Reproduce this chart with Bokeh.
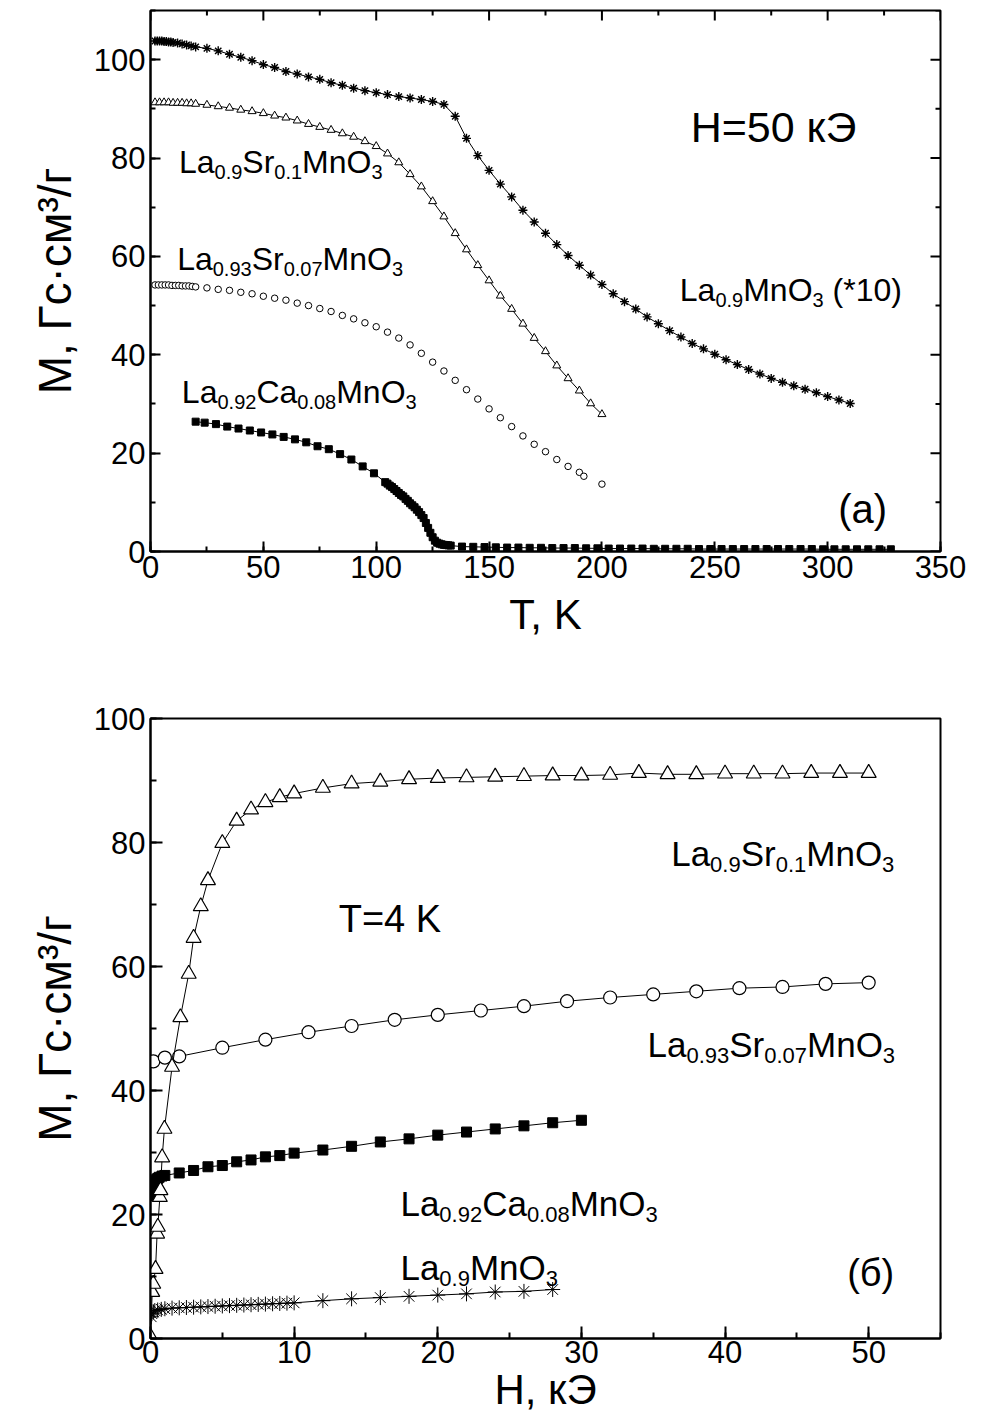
import math
from bokeh.plotting import figure
from bokeh.layouts import column
from bokeh.models import SingleIntervalTicker, Range1d
from bokeh.core.properties import value
from bokeh.embed import file_html
from bokeh.resources import INLINE

FONT = "Liberation Sans"

# ---------------- panel (a): M(T) at H = 50 kOe ----------------
T_mn = [2, 3, 4, 5, 6, 7, 8, 9, 10, 12, 14, 16, 18, 20,
        25, 30, 35, 40, 45, 50, 55, 60, 65, 70, 75, 80, 85, 90, 95, 100,
        105, 110, 115, 120, 125, 130, 135, 140, 145, 150, 155, 160, 165, 170,
        175, 180, 185, 190, 195, 200, 205, 210, 215, 220, 225, 230, 235, 240,
        245, 250, 255, 260, 265, 270, 275, 280, 285, 290, 295, 300, 305, 310]
M_mn = [103.8, 103.8, 103.8, 103.8, 103.7, 103.7, 103.6, 103.6, 103.5, 103.4, 103.2, 103.0, 102.8, 102.6,
        102.3, 101.8, 101.1, 100.5, 99.8, 99.0, 98.4, 97.6, 97.1, 96.5, 96.0, 95.3, 94.8, 94.2, 93.7, 93.3,
        92.9, 92.5, 92.2, 91.9, 91.5, 90.9, 88.5, 84.0, 80.5, 77.5, 74.7, 72.1, 69.4, 67.0,
        64.7, 62.4, 60.2, 58.2, 56.2, 54.3, 52.4, 50.8, 49.3, 47.7, 46.3, 44.9, 43.6, 42.3,
        41.2, 40.1, 39.0, 38.0, 37.0, 36.1, 35.2, 34.4, 33.7, 33.0, 32.3, 31.5, 30.8, 30.1]

T_sr10 = [2, 4, 6, 8, 10, 12, 14, 16, 18, 20,
          25, 30, 35, 40, 45, 50, 55, 60, 65, 70, 75, 80, 85, 90, 95, 100,
          105, 110, 115, 120, 125, 130, 135, 140, 145, 150, 155, 160, 165, 170,
          175, 180, 185, 190, 195, 200]
M_sr10 = [91.3, 91.3, 91.3, 91.3, 91.2, 91.2, 91.2, 91.1, 91.1, 91.0,
          90.8, 90.5, 90.2, 89.8, 89.5, 89.1, 88.6, 88.2, 87.6, 86.9, 86.3, 85.7, 85.0, 84.3, 83.4, 82.4,
          80.9, 79.1, 76.7, 74.2, 71.2, 68.1, 64.7, 61.4, 58.2, 55.1, 52.0, 49.3, 46.3, 43.4,
          40.7, 37.8, 35.2, 32.7, 30.1, 27.9]

T_sr07 = [2, 3.5, 5, 6.5, 8, 9.5, 11, 12.5, 14, 15.5, 17, 18.5, 20,
          25, 30, 35, 40, 45, 50, 55, 60, 65, 70, 75, 80, 85, 90, 95, 100,
          105, 110, 115, 120, 125, 130, 135, 140, 145, 150, 155, 160, 165, 170,
          175, 180, 185, 190, 192, 200]
M_sr07 = [54.2, 54.2, 54.2, 54.2, 54.2, 54.1, 54.1, 54.1, 54.0, 54.0, 54.0, 53.9, 53.8,
          53.6, 53.3, 53.1, 52.7, 52.4, 51.9, 51.5, 51.1, 50.5, 50.0, 49.4, 48.8, 48.0, 47.3, 46.5, 45.7,
          44.6, 43.4, 42.0, 40.3, 38.5, 36.7, 34.8, 32.9, 31.0, 29.0, 27.2, 25.4, 23.5, 21.8,
          20.3, 18.7, 17.3, 16.1, 15.3, 13.7]

T_ca = [20, 24, 29, 34, 39, 44, 49, 54, 59, 64, 69, 74, 79, 84, 89, 94, 99,
        104, 105, 106, 107, 108, 109, 110, 111, 112, 113, 114, 115, 116, 117, 118, 119,
        120, 121, 122, 123, 124, 125, 126, 127, 128, 129, 130, 131, 132, 133,
        138, 143, 148, 153, 158, 163, 168, 173, 178, 183, 188, 193, 198, 203, 208, 213,
        218, 223, 228, 233, 238, 243, 248, 253, 258, 263, 268, 273, 278, 283, 288, 293,
        298, 303, 308, 313, 318, 323, 328]
M_ca = [26.4, 26.2, 25.9, 25.4, 25.0, 24.6, 24.2, 23.8, 23.3, 22.8, 22.2, 21.4, 20.8, 19.8, 18.7, 17.3, 15.9,
        14.1, 13.8, 13.4, 13.1, 12.7, 12.3, 11.9, 11.5, 11.2, 10.7, 10.3, 9.8, 9.4, 9.0, 8.5, 8.0,
        7.4, 6.8, 5.8, 4.8, 3.8, 2.9, 2.2, 1.8, 1.6, 1.45, 1.35, 1.3, 1.25, 1.2,
        1.0, 0.95, 0.9, 0.85, 0.8, 0.8, 0.75, 0.75, 0.7, 0.7, 0.7, 0.65, 0.65, 0.6, 0.6, 0.6,
        0.6, 0.55, 0.55, 0.55, 0.55, 0.5, 0.5, 0.5, 0.5, 0.5, 0.5, 0.5, 0.5, 0.5, 0.5, 0.5,
        0.45, 0.45, 0.45, 0.45, 0.45, 0.45, 0.45]

# ---------------- panel (б): M(H) at T = 4 K ----------------
H_sr10 = [0.0, 0.12, 0.19, 0.35, 0.46, 0.51, 0.65, 0.69, 0.81, 0.97, 1.5, 2.08, 2.66,
          3.0, 3.5, 4.0, 5.0, 6.0, 7.0, 8.0, 9.0, 10.0, 12.0, 14.0, 16.0, 18.0, 20.0,
          22.0, 24.0, 26.0, 28.0, 30.0, 32.0, 34.0, 36.0, 38.0, 40.0, 42.0, 44.0, 46.0, 48.0, 50.0]
M_sr10_H = [0.3, 7.5, 8.8, 11.2, 16.9, 18.0, 22.8, 23.9, 29.2, 33.8, 43.8, 51.8, 58.8,
            64.6, 69.7, 73.9, 79.9, 83.5, 85.3, 86.5, 87.3, 87.9, 88.8, 89.5, 89.8, 90.2, 90.4,
            90.5, 90.6, 90.7, 90.8, 90.8, 90.9, 91.2, 91.0, 91.0, 91.1, 91.1, 91.1, 91.2, 91.2, 91.2]

H_sr07 = [0.2, 1.0, 2.0, 5.0, 8.0, 11.0, 14.0, 17.0, 20.0, 23.0, 26.0, 29.0, 32.0, 35.0,
          38.0, 41.0, 44.0, 47.0, 50.0]
M_sr07_H = [44.7, 45.3, 45.5, 46.9, 48.2, 49.4, 50.4, 51.4, 52.2, 52.9, 53.6, 54.4, 55.0, 55.5,
            56.0, 56.5, 56.7, 57.2, 57.4]

H_ca = [0.05, 0.1, 0.2, 0.3, 0.4, 0.5, 0.6, 0.8, 1.0, 2.0, 3.0, 4.0, 5.0, 6.0, 7.0, 8.0, 9.0, 10.0,
        12.0, 14.0, 16.0, 18.0, 20.0, 22.0, 24.0, 26.0, 28.0, 30.0]
M_ca_H = [23.0, 24.0, 24.8, 25.3, 25.6, 25.8, 26.0, 26.2, 26.3, 26.7, 27.1, 27.7, 27.9, 28.5, 28.8, 29.3, 29.5, 29.9,
          30.4, 31.0, 31.7, 32.2, 32.8, 33.3, 33.8, 34.3, 34.8, 35.2]

H_mn = [0.05, 0.1, 0.2, 0.3, 0.5, 0.75, 1.0, 1.5, 2.0, 2.5, 3.0, 3.5, 4.0, 4.5, 5.0, 5.5, 6.0, 6.5,
        7.0, 7.5, 8.0, 8.5, 9.0, 9.5, 10.0, 12.0, 14.0, 16.0, 18.0, 20.0, 22.0, 24.0, 26.0, 28.0]
M_mn_H = [3.5, 4.0, 4.3, 4.5, 4.6, 4.7, 4.8, 4.9, 4.95, 5.0, 5.05, 5.1, 5.15, 5.2, 5.25, 5.3, 5.35, 5.4,
          5.45, 5.5, 5.55, 5.6, 5.65, 5.7, 5.75, 6.1, 6.4, 6.6, 6.8, 7.0, 7.2, 7.5, 7.6, 7.9]

# mirrored tick positions of panel (a) (top and right frame edges)
TOP_MAJOR = [0, 50, 100, 150, 200, 250, 300, 350]
TOP_MINOR = [25, 75, 125, 175, 225, 275, 325]
RIGHT_MAJOR = [0, 20, 40, 60, 80, 100]
RIGHT_MINOR = [10, 30, 50, 70, 90, 110]

# ---------------- helpers ----------------
W = {'L': 0.556, 'a': 0.556, 'S': 0.667, 'r': 0.333, 'M': 0.833, 'n': 0.556, 'O': 0.778,
     'C': 0.722, '.': 0.278, ' ': 0.278, '(': 0.333, ')': 0.333, '*': 0.389}


def text_width(s, size):
    return sum(W.get(c, 0.556) for c in s) * size


def formula(p, x, y, parts, main, sub):
    off = 0.0
    for txt, is_sub in parts:
        sz = sub if is_sub else main
        lead = len(txt) - len(txt.lstrip(" "))
        off += lead * 0.278 * sz
        t = txt.lstrip(" ")
        p.text(x=[x], y=[y], text=[t], text_font_size=f"{sz}px", x_offset=off,
               y_offset=round(main * 0.31) if is_sub else 0,
               text_font=value(FONT), text_baseline="alphabetic", text_align="left", text_color="black")
        off += text_width(t, sz)


def plain(p, x, y, s, size):
    p.text(x=[x], y=[y], text=[s], text_font_size=f"{size}px", text_font=value(FONT),
           text_baseline="alphabetic", text_align="left", text_color="black")


def style(p, xint, yint, tick_in, xstand, ystand, xstd_lab):
    p.xgrid.visible = False
    p.ygrid.visible = False
    p.outline_line_color = "black"
    p.outline_line_width = 2
    p.background_fill_color = "white"
    p.border_fill_color = "white"
    p.xaxis.ticker = SingleIntervalTicker(interval=xint, num_minor_ticks=2)
    p.yaxis.ticker = SingleIntervalTicker(interval=yint, num_minor_ticks=2)
    for ax in list(p.xaxis) + list(p.yaxis):
        ax.axis_line_width = 2
        ax.major_tick_line_width = 2
        ax.minor_tick_line_width = 2
        ax.major_tick_in = tick_in
        ax.major_tick_out = 0
        ax.minor_tick_in = tick_in // 2
        ax.minor_tick_out = 0
        ax.major_label_text_font = FONT
        ax.major_label_text_font_size = "31px"
        ax.major_label_text_color = "black"
        ax.axis_label_text_font = FONT
        ax.axis_label_text_font_style = "normal"
        ax.axis_label_text_color = "black"
    p.xaxis.axis_label_text_font_size = "42px"
    p.yaxis.axis_label_text_font_size = "46px"
    p.xaxis.major_label_standoff = xstd_lab
    p.yaxis.major_label_standoff = 5
    p.xaxis.axis_label_standoff = xstand
    p.yaxis.axis_label_standoff = ystand


# ---------------- figure (a) ----------------
p1 = figure(width=982, height=690, x_range=Range1d(0, 350), y_range=Range1d(0, 110),
            output_backend="svg", toolbar_location=None,
            min_border_left=148, min_border_right=31, min_border_top=10, min_border_bottom=139)
p1.xaxis.axis_label = "T, K"
p1.yaxis.axis_label = "M, Гс·см³/г"
style(p1, 50, 20, 10, 10, 10, 4)

# mirrored ticks on top and right edges
p1.ray(x=TOP_MAJOR, y=[110] * len(TOP_MAJOR), length=10, angle=-math.pi / 2,
       length_units="screen", line_color="black", line_width=2)
p1.ray(x=TOP_MINOR, y=[110] * len(TOP_MINOR), length=5, angle=-math.pi / 2,
       length_units="screen", line_color="black", line_width=2)
p1.ray(x=[350] * len(RIGHT_MAJOR), y=RIGHT_MAJOR, length=10, angle=math.pi,
       length_units="screen", line_color="black", line_width=2)
p1.ray(x=[350] * len(RIGHT_MINOR), y=RIGHT_MINOR, length=5, angle=math.pi,
       length_units="screen", line_color="black", line_width=2)

p1.line(T_mn, M_mn, line_color="black", line_width=1)
p1.scatter(T_mn, M_mn, marker="asterisk", size=9, line_color="black", line_width=1.4)
p1.line(T_sr10, M_sr10, line_color="black", line_width=1)
p1.scatter(T_sr10, M_sr10, marker="triangle", size=8, line_color="black", fill_color="white", line_width=1)
p1.scatter(T_sr07, M_sr07, marker="circle", size=6.5, line_color="black", fill_color="white", line_width=1)
p1.line(T_ca, M_ca, line_color="black", line_width=1)
p1.scatter(T_ca, M_ca, marker="square", size=7, line_color="black", fill_color="black")

formula(p1, 12.6, 79.2, [("La", 0), ("0.9", 1), ("Sr", 0), ("0.1", 1), ("MnO", 0), ("3", 1)], 32, 20)
formula(p1, 11.8, 59.4, [("La", 0), ("0.93", 1), ("Sr", 0), ("0.07", 1), ("MnO", 0), ("3", 1)], 32, 20)
formula(p1, 13.9, 32.5, [("La", 0), ("0.92", 1), ("Ca", 0), ("0.08", 1), ("MnO", 0), ("3", 1)], 32, 20)
formula(p1, 234.5, 53.1, [("La", 0), ("0.9", 1), ("MnO", 0), ("3", 1), (" (*10)", 0)], 32, 20)
plain(p1, 239.3, 86.3, "H=50 кЭ", 43)
plain(p1, 304.7, 8.6, "(a)", 40)

# ---------------- figure (б) ----------------
p2 = figure(width=982, height=729, x_range=Range1d(0, 55), y_range=Range1d(0, 100),
            output_backend="svg", toolbar_location=None,
            min_border_left=150, min_border_right=42, min_border_top=28, min_border_bottom=81)
p2.xaxis.axis_label = "H, кЭ"
p2.yaxis.axis_label = "M, Гс·см³/г"
style(p2, 10, 20, 12, 0, 10, 2)

p2.line(H_mn, M_mn_H, line_color="black", line_width=1)
p2.scatter(H_mn, M_mn_H, marker="asterisk", size=15, line_color="black", line_width=1)
p2.line(H_ca, M_ca_H, line_color="black", line_width=1)
p2.scatter(H_ca, M_ca_H, marker="square", size=10, line_color="black", fill_color="black")
p2.line(H_sr07, M_sr07_H, line_color="black", line_width=1)
p2.scatter(H_sr07, M_sr07_H, marker="circle", size=13, line_color="black", fill_color="white", line_width=1.2)
p2.line(H_sr10, M_sr10_H, line_color="black", line_width=1)
p2.scatter(H_sr10, M_sr10_H, marker="triangle", size=15, line_color="black", fill_color="white", line_width=1.2)

formula(p2, 36.25, 78.2, [("La", 0), ("0.9", 1), ("Sr", 0), ("0.1", 1), ("MnO", 0), ("3", 1)], 35, 22)
formula(p2, 34.6, 47.4, [("La", 0), ("0.93", 1), ("Sr", 0), ("0.07", 1), ("MnO", 0), ("3", 1)], 35, 22)
formula(p2, 17.4, 21.8, [("La", 0), ("0.92", 1), ("Ca", 0), ("0.08", 1), ("MnO", 0), ("3", 1)], 35, 22)
formula(p2, 17.4, 11.5, [("La", 0), ("0.9", 1), ("MnO", 0), ("3", 1)], 35, 22)
plain(p2, 13.1, 67.7, "T=4 K", 38)
plain(p2, 48.5, 10.5, "(б)", 38)

layout = column(p1, p2)
open("out.html", "w").write(file_html(layout, INLINE))
